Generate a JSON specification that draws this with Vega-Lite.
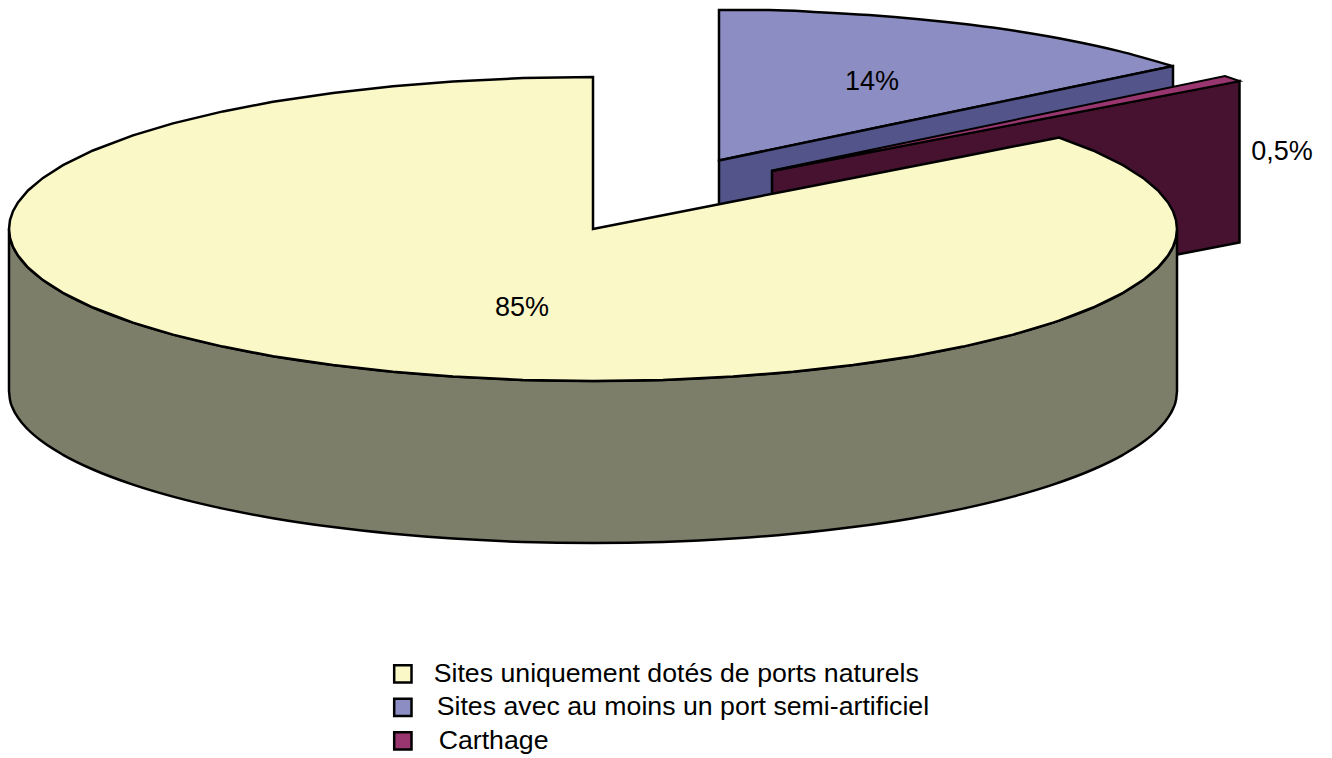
{
"$schema":"https://vega.github.io/schema/vega-lite/v6.json",
"width":1332,"height":758,"padding":0,"autosize":{"type":"none"},
"background":"white",
"config":{"view":{"stroke":null},"font":"Liberation Sans"},
"datasets":{
"blueTop":[
{"serie":"Sites avec au moins un port semi-artificiel","x":719,"y":10,"y2":160.5},
{"serie":"Sites avec au moins un port semi-artificiel","x":769,"y":10.1,"y2":150.1},
{"serie":"Sites avec au moins un port semi-artificiel","x":819,"y":12.2,"y2":139.7},
{"serie":"Sites avec au moins un port semi-artificiel","x":869,"y":15.1,"y2":129.3},
{"serie":"Sites avec au moins un port semi-artificiel","x":919,"y":19.2,"y2":118.9},
{"serie":"Sites avec au moins un port semi-artificiel","x":969,"y":24.6,"y2":108.5},
{"serie":"Sites avec au moins un port semi-artificiel","x":1019,"y":31.5,"y2":98.2},
{"serie":"Sites avec au moins un port semi-artificiel","x":1069,"y":40.2,"y2":87.8},
{"serie":"Sites avec au moins un port semi-artificiel","x":1119,"y":51.1,"y2":77.4},
{"serie":"Sites avec au moins un port semi-artificiel","x":1173,"y":66.2,"y2":66.2}],
"blueSide":[{"x":719,"y":160.5,"y2":322},{"x":1173,"y":66,"y2":228}],
"maroonSide":[{"x":772,"y":171,"y2":333},{"x":1239.5,"y":81,"y2":242.5}],
"maroonTop":[
{"serie":"Carthage","x":772,"y":170.5,"y2":171},
{"serie":"Carthage","x":1225,"y":76,"y2":84},
{"serie":"Carthage","x":1239.5,"y":81,"y2":81}],
"mainSide":[
{"x":9,"y":229,"y2":391},{"x":10,"y":237.9,"y2":399.9},{"x":13,"y":246.8,"y2":408.8},{"x":18,"y":255.6,"y2":417.6},{"x":28,"y":267.5,"y2":429.5},{"x":43,"y":280.1,"y2":442.1},{"x":63,"y":292.8,"y2":454.8},{"x":93,"y":307.5,"y2":469.5},{"x":133,"y":322.6,"y2":484.6},{"x":173,"y":334.6,"y2":496.6},{"x":223,"y":346.6,"y2":508.6},{"x":273,"y":356.2,"y2":518.2},{"x":333,"y":365.1,"y2":527.1},{"x":393,"y":371.8,"y2":533.8},{"x":453,"y":376.6,"y2":538.6},{"x":523,"y":379.9,"y2":541.9},{"x":593,"y":381,"y2":543},{"x":663,"y":379.9,"y2":541.9},{"x":733,"y":376.6,"y2":538.6},{"x":793,"y":371.8,"y2":533.8},{"x":853,"y":365.1,"y2":527.1},{"x":913,"y":356.2,"y2":518.2},{"x":963,"y":346.6,"y2":508.6},{"x":1013,"y":334.6,"y2":496.6},{"x":1053,"y":322.6,"y2":484.6},{"x":1093,"y":307.5,"y2":469.5},{"x":1123,"y":292.8,"y2":454.8},{"x":1143,"y":280.1,"y2":442.1},{"x":1158,"y":267.5,"y2":429.5},{"x":1168,"y":255.6,"y2":417.6},{"x":1173,"y":246.8,"y2":408.8},{"x":1176,"y":237.9,"y2":399.9},{"x":1177,"y":229,"y2":391}],
"mainTop":[
{"serie":"Sites uniquement dotés de ports naturels","x":9,"y":229,"y2":229},
{"serie":"Sites uniquement dotés de ports naturels","x":10,"y":220.1,"y2":237.9},
{"serie":"Sites uniquement dotés de ports naturels","x":13,"y":211.2,"y2":246.8},
{"serie":"Sites uniquement dotés de ports naturels","x":18,"y":202.4,"y2":255.6},
{"serie":"Sites uniquement dotés de ports naturels","x":28,"y":190.5,"y2":267.5},
{"serie":"Sites uniquement dotés de ports naturels","x":43,"y":177.9,"y2":280.1},
{"serie":"Sites uniquement dotés de ports naturels","x":63,"y":165.2,"y2":292.8},
{"serie":"Sites uniquement dotés de ports naturels","x":93,"y":150.5,"y2":307.5},
{"serie":"Sites uniquement dotés de ports naturels","x":133,"y":135.4,"y2":322.6},
{"serie":"Sites uniquement dotés de ports naturels","x":173,"y":123.4,"y2":334.6},
{"serie":"Sites uniquement dotés de ports naturels","x":223,"y":111.4,"y2":346.6},
{"serie":"Sites uniquement dotés de ports naturels","x":273,"y":101.8,"y2":356.2},
{"serie":"Sites uniquement dotés de ports naturels","x":333,"y":92.9,"y2":365.1},
{"serie":"Sites uniquement dotés de ports naturels","x":393,"y":86.2,"y2":371.8},
{"serie":"Sites uniquement dotés de ports naturels","x":453,"y":81.4,"y2":376.6},
{"serie":"Sites uniquement dotés de ports naturels","x":523,"y":78.1,"y2":379.9},
{"serie":"Sites uniquement dotés de ports naturels","x":593,"y":77,"y2":381},
{"serie":"Sites uniquement dotés de ports naturels","x":593,"y":229,"y2":381},
{"serie":"Sites uniquement dotés de ports naturels","x":663,"y":215.3,"y2":379.9},
{"serie":"Sites uniquement dotés de ports naturels","x":733,"y":201.5,"y2":376.6},
{"serie":"Sites uniquement dotés de ports naturels","x":793,"y":189.7,"y2":371.8},
{"serie":"Sites uniquement dotés de ports naturels","x":853,"y":177.9,"y2":365.1},
{"serie":"Sites uniquement dotés de ports naturels","x":913,"y":166.2,"y2":356.2},
{"serie":"Sites uniquement dotés de ports naturels","x":963,"y":156.4,"y2":346.6},
{"serie":"Sites uniquement dotés de ports naturels","x":1013,"y":146.5,"y2":334.6},
{"serie":"Sites uniquement dotés de ports naturels","x":1053,"y":138.7,"y2":322.6},
{"serie":"Sites uniquement dotés de ports naturels","x":1059,"y":137.5,"y2":320.6},
{"serie":"Sites uniquement dotés de ports naturels","x":1093,"y":150.5,"y2":307.5},
{"serie":"Sites uniquement dotés de ports naturels","x":1123,"y":165.2,"y2":292.8},
{"serie":"Sites uniquement dotés de ports naturels","x":1143,"y":177.9,"y2":280.1},
{"serie":"Sites uniquement dotés de ports naturels","x":1158,"y":190.5,"y2":267.5},
{"serie":"Sites uniquement dotés de ports naturels","x":1168,"y":202.4,"y2":255.6},
{"serie":"Sites uniquement dotés de ports naturels","x":1173,"y":211.2,"y2":246.8},
{"serie":"Sites uniquement dotés de ports naturels","x":1176,"y":220.1,"y2":237.9},
{"serie":"Sites uniquement dotés de ports naturels","x":1177,"y":229,"y2":229}],
"labels":[{"label":"85%","x":522,"y":308},{"label":"14%","x":872,"y":82},{"label":"0,5%","x":1282,"y":152}]
},
"encoding":{
"x":{"field":"x","type":"quantitative","scale":{"domain":[0,1332],"nice":false,"zero":false},"axis":null},
"y":{"field":"y","type":"quantitative","scale":{"domain":[758,0],"nice":false,"zero":false},"axis":null}
},
"layer":[
{"data":{"name":"blueTop"},"mark":{"type":"area","orient":"vertical","interpolate":"monotone","stroke":"black","strokeWidth":2.5,"strokeJoin":"miter"},
"encoding":{"y2":{"field":"y2"},"order":{"value":null},
"color":{"field":"serie","type":"nominal","scale":{"domain":["Sites uniquement dotés de ports naturels","Sites avec au moins un port semi-artificiel","Carthage"],"range":["#FBF8C8","#8C8DC3","#993670"]},
"legend":{"title":null,"orient":"none","legendX":389.5,"legendY":660.5,"symbolType":"square","symbolSize":300,"symbolStrokeColor":"black","symbolStrokeWidth":2.5,"symbolOpacity":1,"labelFontSize":26.7,"labelFont":"Liberation Sans","labelColor":"black","labelLimit":700,"labelOffset":17.5,"rowPadding":4.5,"padding":0,"values":["Sites uniquement dotés de ports naturels","Sites avec au moins un port semi-artificiel","Carthage"],
"encode":{"labels":{"update":{"dx":{"signal":"datum.value === 'Carthage' ? 5 : datum.value === 'Sites avec au moins un port semi-artificiel' ? 3 : 0"}}}}}}}},
{"data":{"name":"blueSide"},"mark":{"type":"area","orient":"vertical","fill":"#53548A","stroke":"black","strokeWidth":2.5},"encoding":{"y2":{"field":"y2"},"order":{"value":null}}},
{"data":{"name":"maroonSide"},"mark":{"type":"area","orient":"vertical","fill":"#47122F","stroke":"black","strokeWidth":2.5},"encoding":{"y2":{"field":"y2"},"order":{"value":null}}},
{"data":{"name":"maroonTop"},"mark":{"type":"area","orient":"vertical","stroke":"black","strokeWidth":2},"encoding":{"y2":{"field":"y2"},"order":{"value":null},"color":{"field":"serie","type":"nominal","legend":null}}},
{"data":{"name":"mainSide"},"mark":{"type":"area","orient":"vertical","interpolate":"monotone","fill":"#7C7E6A","stroke":"black","strokeWidth":2.5},"encoding":{"y2":{"field":"y2"},"order":{"value":null}}},
{"data":{"name":"mainTop"},"mark":{"type":"area","orient":"vertical","stroke":"black","strokeWidth":2.5},"encoding":{"y2":{"field":"y2"},"order":{"value":null},"color":{"field":"serie","type":"nominal","legend":null}}},
{"data":{"name":"labels"},"mark":{"type":"text","fontSize":27,"font":"Liberation Sans","color":"black","align":"center","baseline":"middle"},"encoding":{"text":{"field":"label"}}}
]
}
